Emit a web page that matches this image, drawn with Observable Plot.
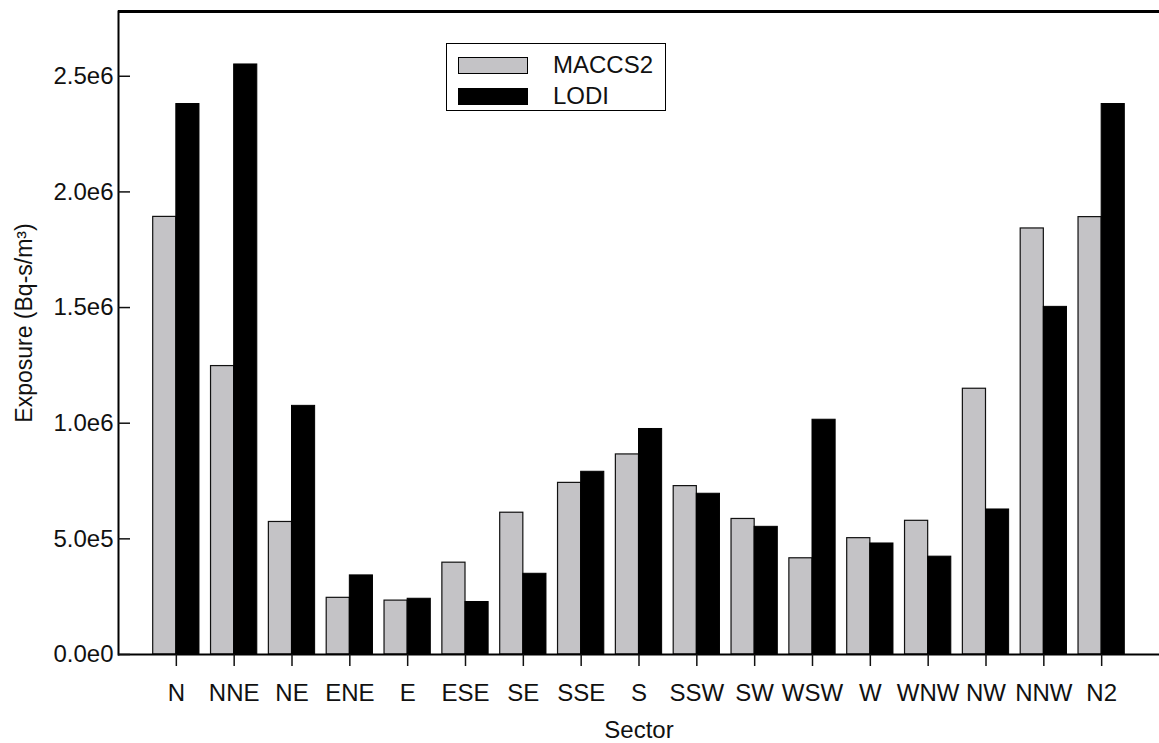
<!DOCTYPE html>
<html>
<head>
<meta charset="utf-8">
<script src="https://cdn.jsdelivr.net/npm/d3@7"></script>
<script src="https://cdn.jsdelivr.net/npm/@observablehq/plot@0.6"></script>
<style>
  html, body { margin: 0; padding: 0; background: #fff; }
  #wrap { position: relative; width: 1159px; height: 743px; font-family: "Liberation Sans", Arial, sans-serif; }
  #legend { position: absolute; left: 446px; top: 43px; width: 220px; height: 68px; border: 1px solid #000; box-sizing: border-box; background: #fff; }
  .row { position: absolute; left: 11px; display: flex; align-items: center; }
  .sw { width: 70px; height: 17px; box-sizing: border-box; border: 1px solid #000; }
  .lab { margin-left: 25px; font-size: 24px; color: #111; line-height: 24px; }
</style>
</head>
<body>
<div id="wrap">
  <div id="chart"></div>
  <div id="legend"></div>
</div>
<script>
const sectors = ["N","NNE","NE","ENE","E","ESE","SE","SSE","S","SSW","SW","WSW","W","WNW","NW","NNW","N2"];
const maccs2 = [1.892e6,1.247e6,0.573e6,0.245e6,0.233e6,0.397e6,0.613e6,0.742e6,0.865e6,0.728e6,0.586e6,0.416e6,0.503e6,0.578e6,1.149e6,1.842e6,1.891e6];
const lodi   = [2.380e6,2.551e6,1.075e6,0.342e6,0.241e6,0.227e6,0.349e6,0.790e6,0.975e6,0.695e6,0.552e6,1.015e6,0.480e6,0.423e6,0.627e6,1.503e6,2.380e6];
const seriesNames = ["MACCS2","LODI"];
const seriesColors = ["#c4c3c6","#000000"];
const yTicks = [0, 5e5, 1e6, 1.5e6, 2e6, 2.5e6];
const yTickLabels = ["0.0e0","5.0e5","1.0e6","1.5e6","2.0e6","2.5e6"];
const yMax = 2.78e6;
const xTitle = "Sector";
const yTitle = "Exposure (Bq-s/m³)";

const rowsM = sectors.map((s, i) => ({sector: s, series: seriesNames[0], value: maccs2[i]}));
const rowsL = sectors.map((s, i) => ({sector: s, series: seriesNames[1], value: lodi[i]}));

const W = 1159, H = 743, mL = 118, mR = 0, mT = 11, mB = 89;
const pInner = 0.2, pOuter = 0.6;
const step = (W - mL - mR) / (sectors.length - pInner + 2 * pOuter);
const half = step * (1 - pInner) / 2;
const font = "Liberation Sans, Arial, sans-serif";

const chart = Plot.plot({
  width: W, height: H,
  marginLeft: mL, marginRight: mR, marginTop: mT, marginBottom: mB,
  style: {fontFamily: font, fontSize: "24px", color: "#111", background: "#fff"},
  x: {domain: sectors, paddingInner: pInner, paddingOuter: pOuter, align: 0.5, round: false},
  y: {domain: [0, yMax]},
  marks: [
    Plot.barY(rowsM, {x: "sector", y: "value", fill: seriesColors[0], stroke: "#111", strokeWidth: 1.2, insetRight: half}),
    Plot.barY(rowsL, {x: "sector", y: "value", fill: seriesColors[1], stroke: "#000", strokeWidth: 1, insetLeft: half}),
    Plot.ruleY([0], {stroke: "#000", strokeWidth: 2}),
    Plot.ruleY([yMax], {stroke: "#000", strokeWidth: 3}),
    Plot.frame({anchor: "left", stroke: "#000", strokeWidth: 2}),
    Plot.axisY({ticks: yTicks, tickSize: 0, tickPadding: 5, tickFormat: (d) => yTickLabels[yTicks.indexOf(d)], fontSize: 24, label: null}),
    Plot.axisY({ticks: yTicks, tickSize: 12, insetLeft: 12, fill: "none", strokeWidth: 1.5, label: null}),
    Plot.axisX({tickSize: 12, tickPadding: 17, fontSize: 24, strokeWidth: 1.5, label: null}),
    Plot.text([xTitle], {frameAnchor: "bottom", lineAnchor: "top", dy: 66, fontSize: 24, fill: "#111"}),
    Plot.text([yTitle], {frameAnchor: "left", textAnchor: "middle", rotate: -90, dx: -94, dy: -10, fontSize: 23, fill: "#111"})
  ]
});
document.getElementById("chart").appendChild(chart);

const legend = document.getElementById("legend");
seriesNames.forEach((name, i) => {
  const row = document.createElement("div");
  row.className = "row";
  row.style.top = (i === 0 ? 9 : 40) + "px";
  const sw = document.createElement("div");
  sw.className = "sw";
  sw.style.background = seriesColors[i];
  const lab = document.createElement("span");
  lab.className = "lab";
  lab.textContent = name;
  row.appendChild(sw);
  row.appendChild(lab);
  legend.appendChild(row);
});
</script>
</body>
</html>
